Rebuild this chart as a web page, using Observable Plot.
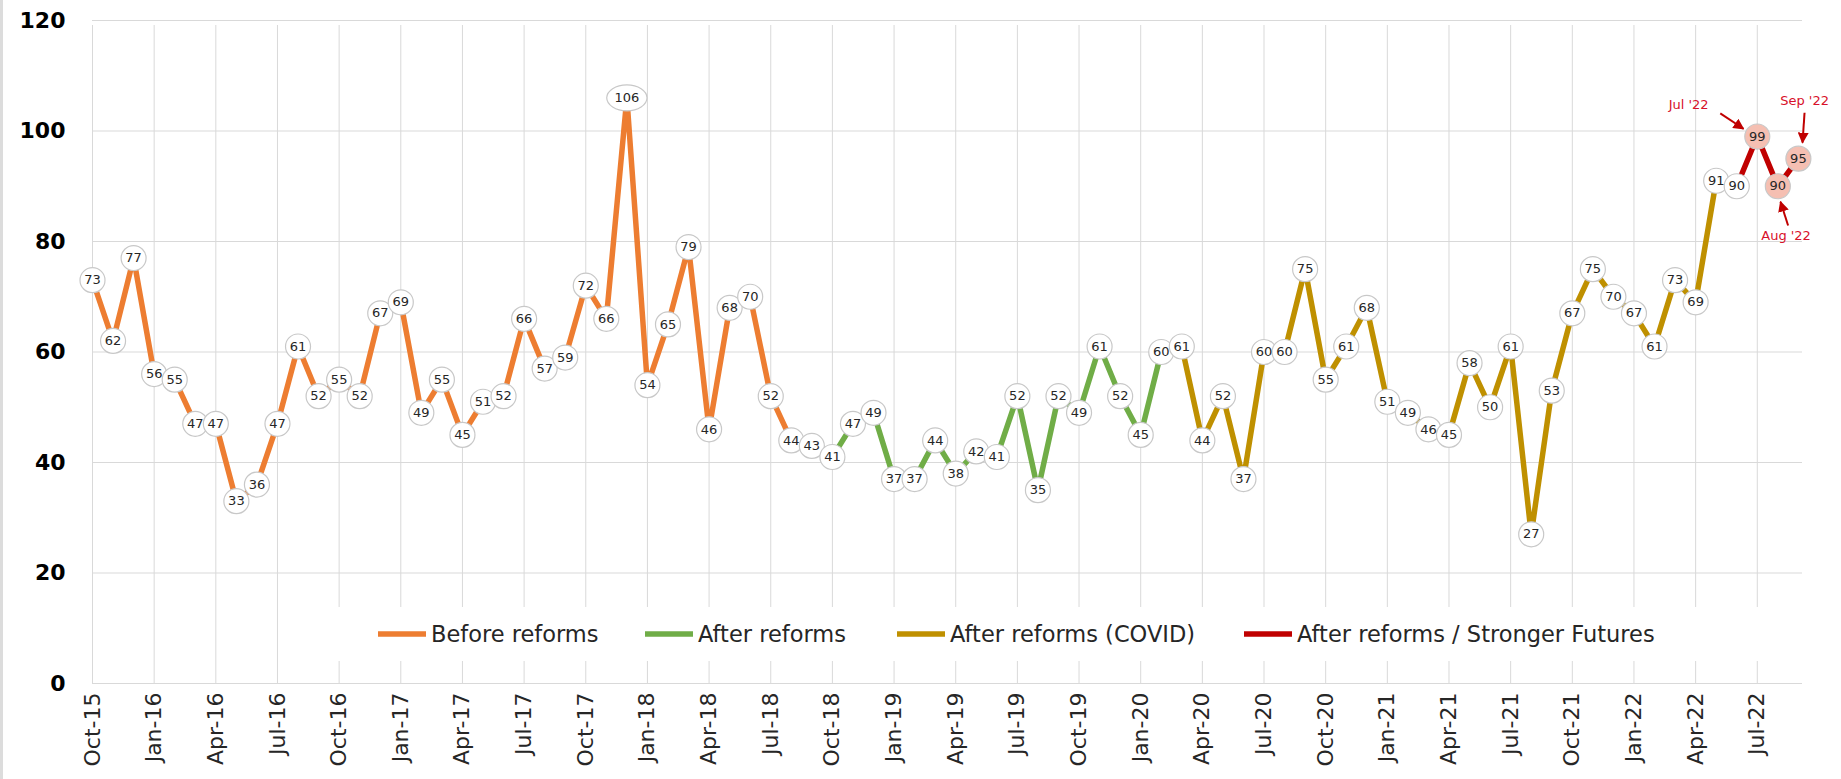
<!DOCTYPE html>
<html><head><meta charset="utf-8">
<script src="https://cdn.jsdelivr.net/npm/d3@7"></script>
<script src="https://cdn.jsdelivr.net/npm/@observablehq/plot@0.6"></script>
<style>
html,body{margin:0;padding:0;background:#fff;}
#chart{position:relative;width:1841px;height:779px;overflow:hidden;}
#chart::before{content:"";position:absolute;left:0;top:0;bottom:0;width:3px;background:#dcdcdc;}
</style></head><body><div id="chart"></div>
<script>
// Monthly values, Oct-15 .. Sep-22
const values = [73,62,77,
  56,55,47,47,33,36,47,61,52,55,52,67,
  69,49,55,45,51,52,66,57,59,72,66,106,
  54,65,79,46,68,70,52,44,43,41,47,49,
  37,37,44,38,42,41,52,35,52,49,61,52,
  45,60,61,44,52,37,60,60,75,55,61,68,
  51,49,46,45,58,50,61,27,53,67,75,70,
  67,61,73,69,91,90,99,90,95];
const tickLabels = ["Oct-15","Jan-16","Apr-16","Jul-16","Oct-16","Jan-17","Apr-17","Jul-17","Oct-17",
  "Jan-18","Apr-18","Jul-18","Oct-18","Jan-19","Apr-19","Jul-19","Oct-19","Jan-20","Apr-20","Jul-20",
  "Oct-20","Jan-21","Apr-21","Jul-21","Oct-21","Jan-22","Apr-22","Jul-22"];
const yTicks = [0,20,40,60,80,100,120];
const periodNames = ["Before reforms","After reforms","After reforms (COVID)","After reforms / Stronger Futures"];
const periodColors = ["#ED7D31","#70AD47","#BF9000","#C00000"];
const periodStart = [0,36,53,80];
const periodEnd = [36,53,80,83];
const highlighted = [81,82,83];
const annLabels = ["Jul '22","Aug '22","Sep '22"];
const annTextX = [77.66,82.4,83.3];
const annTextY = [104.8,81.1,105.5];
const annTailX = [79.2,82.5,83.3];
const annTailY = [103.2,82.9,103.3];
const annTipX = [80.33,82.13,83.2];
const annTipY = [100.4,87.2,97.9];

const rows = values.map((v,i)=>({i,v,hl:highlighted.includes(i)}));
const segRows = periodNames.flatMap((p,k)=>rows.filter(d=>d.i>=periodStart[k]&&d.i<=periodEnd[k]).map(d=>({...d,p})));
const ann = annLabels.map((t,k)=>({t,x:annTextX[k],y:annTextY[k],x1:annTailX[k],y1:annTailY[k],x2:annTipX[k],y2:annTipY[k]}));

const ellipseSym = {draw(ctx,size){const r=Math.sqrt(size/Math.PI);const rx=r*1.55,ry=r;const k=0.5523;
  ctx.moveTo(rx,0);ctx.bezierCurveTo(rx,k*ry,k*rx,ry,0,ry);ctx.bezierCurveTo(-k*rx,ry,-rx,k*ry,-rx,0);
  ctx.bezierCurveTo(-rx,-k*ry,-k*rx,-ry,0,-ry);ctx.bezierCurveTo(k*rx,-ry,rx,-k*ry,rx,0);ctx.closePath();}};

function filledArrow(color){
  const ns="http://www.w3.org/2000/svg";
  const m=document.createElementNS(ns,"marker");
  m.setAttribute("viewBox","0 -5 10 10");
  m.setAttribute("refX","9");
  m.setAttribute("markerWidth","5.5");
  m.setAttribute("markerHeight","5.5");
  m.setAttribute("orient","auto");
  const p=document.createElementNS(ns,"path");
  p.setAttribute("d","M0,-5L10,0L0,5Z");
  p.setAttribute("fill",color);
  p.setAttribute("stroke","none");
  m.appendChild(p);
  return m;
}

const tickIdx = tickLabels.map((_,k)=>k*3);
const plot = Plot.plot({
  width:1841, height:779, marginLeft:92, marginRight:39, marginTop:20, marginBottom:96,
  style:{fontFamily:"DejaVu Sans, Verdana, sans-serif", background:"white", overflow:"visible"},
  x:{type:"linear", domain:[0,83.2]},
  y:{domain:[0,120]},
  marks:[
    Plot.ruleY(yTicks,{y:d=>d, stroke:"#d9d9d9", strokeWidth:1}),
    Plot.ruleX(tickIdx,{x:d=>d, y1:0, y2:120, stroke:"#d9d9d9", strokeWidth:1, insetBottom:-5}),
    Plot.axisY(yTicks,{tickSize:0, tickPadding:27, fontSize:22, fontWeight:"bold", fill:"#000", label:null}),
    Plot.axisX(tickIdx,{tickSize:0, tickPadding:9, tickRotate:-90, fontSize:22, fill:"#262626", label:null, tickFormat:d=>tickLabels[d/3]}),
    ...periodNames.map((p,k)=>Plot.line(segRows.filter(d=>d.p===p),{x:"i", y:"v", stroke:periodColors[k], strokeWidth:5.5, strokeLinejoin:"round"})),
    Plot.dot(rows.filter(d=>d.v<100),{x:"i", y:"v", r:12.5, fill:d=>d.hl?"#F5BFB2":"white", stroke:"#c8c8c8", strokeWidth:1.2}),
    Plot.dot(rows.filter(d=>d.v>=100),{x:"i", y:"v", r:13, symbol:ellipseSym, fill:"white", stroke:"#c8c8c8", strokeWidth:1.2}),
    Plot.text(rows,{x:"i", y:"v", text:d=>String(d.v), fontSize:13, fill:"#262626"}),
    Plot.link(ann,{x1:"x1", y1:"y1", x2:"x2", y2:"y2", stroke:"#C00000", strokeWidth:2, markerEnd:filledArrow}),
    Plot.text(ann,{x:"x", y:"y", text:"t", fontSize:13, fill:"#D8102A"})
  ]
});
document.getElementById("chart").appendChild(plot);

// legend (inside plot, on a white box)
const svg = d3.select(plot);
const lg = svg.append("g").attr("text-anchor","start");
lg.append("rect").attr("x",320).attr("y",607).attr("width",1460).attr("height",54).attr("fill","white");
const legX = [378,645,897,1244];
periodNames.forEach((p,k)=>{
  lg.append("line").attr("x1",legX[k]).attr("x2",legX[k]+48).attr("y1",634).attr("y2",634)
    .attr("stroke",periodColors[k]).attr("stroke-width",5.5);
  lg.append("text").attr("x",legX[k]+53).attr("y",634).attr("dy","0.35em").attr("text-anchor","start")
    .attr("font-size",22.5).attr("fill","#262626").attr("font-family","DejaVu Sans, Verdana, sans-serif").text(p);
});
</script></body></html>
